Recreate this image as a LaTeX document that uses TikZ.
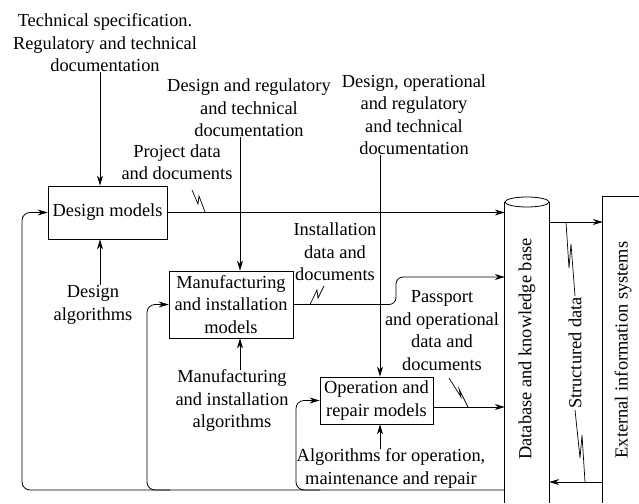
\documentclass[tikz,border=0pt]{standalone}
\usepackage{fontspec}
\setmainfont{Liberation Serif}
\usetikzlibrary{arrows.meta}
\begin{document}
\begin{tikzpicture}[x=1pt,y=-1pt,
  every node/.style={font=\fontsize{18.4}{22.5}\selectfont, inner sep=0pt},
  box/.style={draw, line width=0.8pt, align=center},
  lbl/.style={align=center},
  arr/.style={line width=0.8pt, -{Stealth[length=10pt,width=6pt]}},
  ln/.style={line width=0.8pt},
  fb/.style={arr, rounded corners=8pt},
  zig/.style={line width=0.7pt}]
\useasboundingbox (0,0) rectangle (639,503);

% model boxes
\node[box, minimum width=119pt, minimum height=53pt] (dm) at (107.5,212.5) {Design models};
\node[box, minimum width=124pt, minimum height=67pt] (mm) at (231,304.5) {Manufacturing\\and installation\\models};
\node[box, minimum width=113pt, minimum height=47pt] (om) at (376.5,400.5) {Operation and\\repair models};

% labels
\node[lbl] (t1) at (105,43) {Technical specification.\\Regulatory and technical\\documentation};
\node[lbl] (t2) at (249,108) {Design and regulatory\\and technical\\documentation};
\node[lbl] (t3) at (414,114.5) {Design, operational\\and regulatory\\and technical\\documentation};
\node[lbl] (t4) at (177,162) {Project data\\and documents};
\node[lbl] (t5) at (335,252) {Installation\\data and\\documents};
\node[lbl] (t6) at (442,330.5) {Passport\\and operational\\data and\\documents};
\node[lbl] (t7) at (93,305) {Design\\algorithms};
\node[lbl] (t8) at (232,401) {Manufacturing\\and installation\\algorithms};
\node[lbl] (t9) at (391,468.5) {Algorithms for operation,\\maintenance and repair};

% database cylinder
\node[minimum width=44pt, minimum height=301pt] (db) at (527,352.5) {};
\draw[ln] (527,202) ellipse [x radius=22pt, y radius=5pt];
\draw[ln] (db.north west) -- (db.south west);
\draw[ln] (db.north east) -- (db.south east);
\node[rotate=90] (dbt) at (527,349) {Database and knowledge base};

% external systems
\node[minimum width=40pt, minimum height=306pt] (ext) at (623,350) {};
\draw[ln] (ext.south west) -- (ext.north west) -- (ext.north east);
\node[rotate=90] (extt) at (623,350) {External information systems};

% structured data
\node[rotate=90, outer sep=1pt] (sd) at (575,353) {Structured data};
\draw[arr] (db.east |- 0,222) -- (ext.west |- 0,222);
\draw[arr] (ext.west |- 0,482) -- (db.east |- 0,482);
\draw[zig] (566,222) -- (569,268) -- (571,244) -- (sd.east);
\draw[zig] (sd.west) -- (580,458) -- (582,435) -- (585,482);

% input arrows
\draw[arr] (t1.south -| 100,0) -- (dm.north -| 100,0);
\draw[arr] (t7.north -| 100,0) -- (dm.south -| 100,0);
\draw[arr] (t2.south -| 240,0) -- (mm.north -| 240,0);
\draw[arr] (t8.north -| 240,0) -- (mm.south -| 240,0);
\draw[arr] (t3.south -| 380,0) -- (om.north -| 380,0);
\draw[arr] (t9.north -| 380,0) -- (om.south -| 380,0);

% outputs
\draw[arr] (dm.east) -- (dm.east -| db.west);
\draw[arr, rounded corners=7pt] (mm.east) -- (396,304.5) -- (396,277) -- (db.west |- 0,277);
\draw[arr] (om.east |- 0,407) -- (db.west |- 0,407);

% lightning marks
\draw[zig] (192,190) -- (198,204) -- (199,196) -- (205,212);
\draw[zig] (310,304.5) -- (317,290) -- (318,298) -- (324,286);
\draw[zig] (449,378) -- (461,397) -- (459,389) -- (468,407);

% feedback
\coordinate (j1) at (170,490);
\coordinate (j2) at (320,490);
\draw[fb] (db.west |- 0,490) -- (22,490) |- (dm.west);
\draw[fb] (j1) -- (147,490) |- (mm.west);
\draw[fb] (j2) -- (296,490) |- (om.west);
\end{tikzpicture}
\end{document}
